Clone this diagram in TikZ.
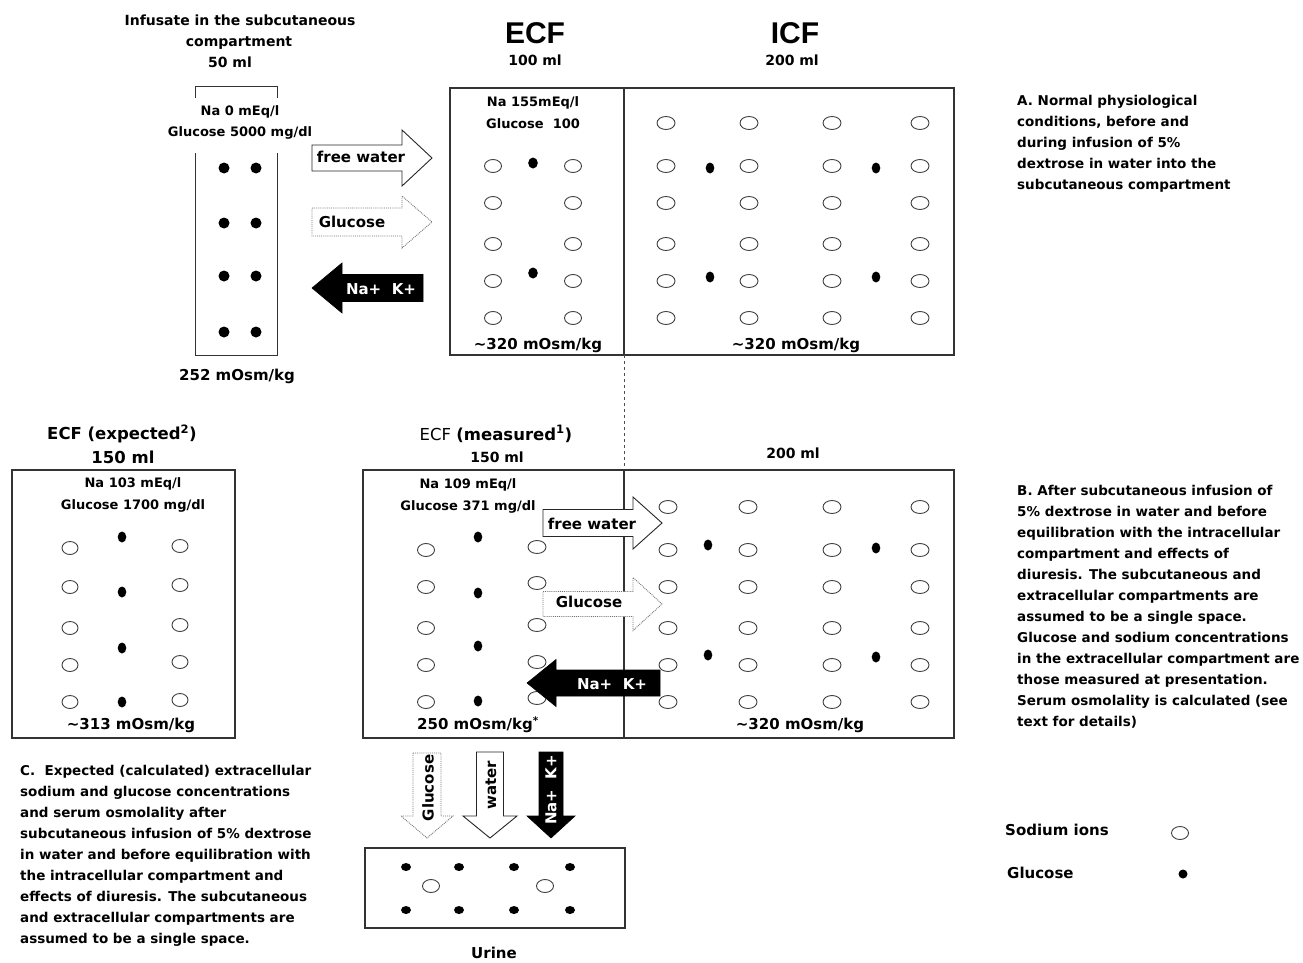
\documentclass[tikz,border=0pt]{standalone}
\usepackage{fontspec}
\setmainfont{DejaVu Sans}
\newfontfamily\headfont{Liberation Sans}
\newcommand{\myRarrow}[7]{% style, tail x, tip x, yc, body half, head half, head length
  \draw[#1] (#2,{#4-#5}) -- ({#3-#7},{#4-#5}) -- ({#3-#7},{#4-#6}) -- (#3,#4) -- ({#3-#7},{#4+#6}) -- ({#3-#7},{#4+#5}) -- (#2,{#4+#5}) -- cycle;}
\newcommand{\myLarrow}[7]{% style, tip x, tail x, yc, body half, head half, head length
  \draw[#1] (#3,{#4-#5}) -- ({#2+#7},{#4-#5}) -- ({#2+#7},{#4-#6}) -- (#2,#4) -- ({#2+#7},{#4+#6}) -- ({#2+#7},{#4+#5}) -- (#3,{#4+#5}) -- cycle;}
\newcommand{\myDarrow}[7]{% style, xc, top y, tip y, body half, head half, head length
  \draw[#1] ({#2-#5},#3) -- ({#2-#5},{#4-#7}) -- ({#2-#6},{#4-#7}) -- (#2,#4) -- ({#2+#6},{#4-#7}) -- ({#2+#5},{#4-#7}) -- ({#2+#5},#3) -- cycle;}
\begin{document}
\begin{tikzpicture}[x=1pt,y=-1pt,
  box/.style={draw=black!80, line width=1.3pt},
  thinbox/.style={draw=black!80, line width=1pt},
  na/.style={draw=black!75, line width=0.9pt},
  glu/.style={fill=black},
  lbl/.style={font=\fontsize{13}{15}\selectfont\bfseries, inner sep=0},
  osm/.style={font=\fontsize{15}{18}\selectfont\bfseries, inner sep=0},
  ttl/.style={font=\fontsize{14}{18}\selectfont\bfseries, inner sep=0},
  sub/.style={font=\fontsize{16.5}{18}\selectfont\bfseries, inner sep=0},
  big/.style={font=\headfont\fontsize{30}{32}\selectfont\bfseries, inner sep=0},
  body/.style={font=\fontsize{13.5}{21}\selectfont\bfseries, align=left, anchor=north west, inner sep=0},
  atxt/.style={font=\fontsize{15}{18}\selectfont\bfseries, inner sep=0},
  arrw/.style={draw=black!85, line width=0.9pt, fill=white},
  arrdot/.style={draw=black!55, densely dotted, line width=0.9pt, fill=white},
  arrblk/.style={fill=black, draw=black, line width=0.6pt}]
\useasboundingbox (0,0) rectangle (1303,963);

% ---------- Infusate ----------
\node[ttl] (inf1) at (240,20) {Infusate in the subcutaneous};
\node[ttl] (inf2) at (239,43) {compartment};
\node[ttl] (inf3) at (230,62) {50 ml};
\draw[thinbox] (195,98) -- (195,87) -- (277,87) -- (277,98);
\node[lbl] (infna) at (240,112) {Na 0 mEq/l};
\node[lbl] (infglu) at (240,133) {Glucose 5000 mg/dl};
\draw[thinbox] (195,153) -- (195,355) -- (277,355) -- (277,153);
\foreach \x in {224,256} \foreach \y in {168,223,276,332}
  \fill (\x,\y) circle (5.5);
\node[osm] (infosm) at (237,376) {252 mOsm/kg};

% top arrows
\myRarrow{arrw}{312}{432}{158}{13}{28}{30}
\node[atxt] (fw1) at (361,157) {free water};
\myRarrow{arrdot}{312}{432}{222}{14}{26}{30}
\node[atxt] (gl1) at (352,222) {Glucose};
\myLarrow{arrblk}{312}{423}{288}{13.5}{25}{30}
\node[atxt, text=white] (nk1) at (381,289) {Na+\ \ K+};

% ---------- Top ECF / ICF ----------
\node[big] (ecfh) at (535,33) {ECF};
\node[ttl] (ecfv) at (535,60) {100 ml};
\node[big] (icfh) at (795,33) {ICF};
\node[ttl] (icfv) at (792,60) {200 ml};
\draw[box] (450,88) rectangle (954,355);
\draw[box] (624,88) -- (624,355);
\node[lbl] (tna) at (533,103) {Na 155mEq/l};
\node[lbl] (tglu) at (533,124) {Glucose\ \ 100};
\foreach \x in {493,573} \foreach \y in {166,203,244,281,318}
  \draw[na] (\x,\y) ellipse (8.5 and 6.5);
\fill (533,163) ellipse (4.8 and 5.5);
\fill (533,273) ellipse (4.8 and 5.5);
\foreach \x in {666,749,832,920} \foreach \y in {123,166,203,244,281,318}
  \draw[na] (\x,\y) ellipse (9 and 6.5);
\foreach \x in {710,876} \foreach \y in {168,277}
  \fill (\x,\y) ellipse (4.3 and 5.5);
\node[osm] (tosm1) at (538,345) {\textasciitilde 320 mOsm/kg};
\node[osm] (tosm2) at (796,345) {\textasciitilde 320 mOsm/kg};
\node[body] (txtA) at (1017,95) {A. Normal physiological\\conditions, before and\\during infusion of 5\%\\dextrose in water into the\\subcutaneous compartment};

\draw[dashed, black!70, line width=0.9pt] (624,355) -- (624,470);

% ---------- Left: ECF expected ----------
\node[sub] (exph) at (122,434) {ECF (expected\textsuperscript{2})};
\node[sub] (expv) at (123,457) {150 ml};
\draw[box] (12,470) rectangle (235,738);
\node[lbl] (ena) at (133,484) {Na 103 mEq/l};
\node[lbl] (eglu) at (133,506) {Glucose 1700 mg/dl};
\foreach \y in {548,587,628,665,702} \draw[na] (70,\y) ellipse (8 and 6.5);
\foreach \y in {546,585,625,662,700} \draw[na] (180,\y) ellipse (8 and 6.5);
\foreach \y in {537,592,648,702} \fill (122,\y) ellipse (4.3 and 5.5);
\node[osm] (eosm) at (131,725) {\textasciitilde 313 mOsm/kg};

% ---------- Middle: ECF measured / ICF ----------
\node[sub] (mh) at (496,434) {\mdseries ECF \bfseries(measured\textsuperscript{1})};
\node[ttl] (mv) at (497,457) {150 ml};
\node[ttl] (miv) at (793,453) {200 ml};
\draw[box] (363,470) rectangle (954,738);
\draw[box] (624,470) -- (624,738);
\node[lbl] (mna) at (468,485) {Na 109 mEq/l};
\node[lbl] (mglu) at (468,507) {Glucose 371 mg/dl};
\foreach \y in {550,587,628,665,702} \draw[na] (426,\y) ellipse (8.5 and 6.5);
\foreach \y in {547,583,625,662,698} \draw[na] (537,\y) ellipse (9 and 6.5);
\foreach \y in {537,593,646,701} \fill (478,\y) ellipse (4.3 and 5.5);
\foreach \x in {668,748,832,920} \foreach \y in {507,550,587,628,665,702}
  \draw[na] (\x,\y) ellipse (9 and 6.5);
\foreach \p in {(708,545),(876,548),(708,655),(876,657)}
  \fill \p ellipse (4.3 and 5.5);
\myRarrow{arrw}{543}{662}{523}{13.5}{26}{29}
\node[atxt] (fw2) at (592,524) {free water};
\myRarrow{arrdot}{543}{662}{604}{12.5}{26.5}{29}
\node[atxt] (gl2) at (589,602) {Glucose};
\myLarrow{arrblk}{527}{660}{683}{13}{23.5}{29}
\node[atxt, text=white] (nk2) at (612,684) {Na+\ \ K+};
\node[osm] (mosm1) at (478,725) {250 mOsm/kg\textsuperscript{*}};
\node[osm] (mosm2) at (800,725) {\textasciitilde 320 mOsm/kg};
\node[body] (txtB) at (1017,485) {B. After subcutaneous infusion of\\5\% dextrose in water and before\\equilibration with the intracellular\\compartment and effects of\\diuresis. The subcutaneous and\\extracellular compartments are\\assumed to be a single space.\\Glucose and sodium concentrations\\in the extracellular compartment are\\those measured at presentation.\\Serum osmolality is calculated (see\\text for details)};

% ---------- Bottom ----------
\node[body] (txtC) at (20,765) {C.\ \ Expected (calculated) extracellular\\sodium and glucose concentrations\\and serum osmolality after\\subcutaneous infusion of 5\% dextrose\\in water and before equilibration with\\the intracellular compartment and\\effects of diuresis. The subcutaneous\\and extracellular compartments are\\assumed to be a single space.};

\myDarrow{arrdot}{427}{753}{838}{14}{26}{22}
\node[atxt, rotate=90] (gl3) at (428,788) {Glucose};
\myDarrow{arrw}{490}{752}{838}{13.5}{27}{22}
\node[atxt, rotate=90] (wa3) at (491,785) {water};
\myDarrow{arrblk}{551}{752}{838}{12}{24}{22}
\node[atxt, rotate=90, text=white] (nk3) at (551,790) {Na+\ \ K+};

\draw[box] (365,848) rectangle (625,928);
\foreach \x in {406,459,514,570} \foreach \y in {867,910}
  \fill (\x,\y) ellipse (5 and 4);
\draw[na] (431,886) ellipse (8.5 and 6.5);
\draw[na] (545,886) ellipse (8.5 and 6.5);
\node[osm] (urine) at (494,953) {Urine};

% legend
\node[osm, anchor=west] (leg1) at (1005,830) {Sodium ions};
\draw[na] (1180,833) ellipse (8.5 and 6.5);
\node[osm, anchor=west] (leg2) at (1007,873) {Glucose};
\fill (1183,874) ellipse (4.5 and 4.5);
\end{tikzpicture}
\end{document}
